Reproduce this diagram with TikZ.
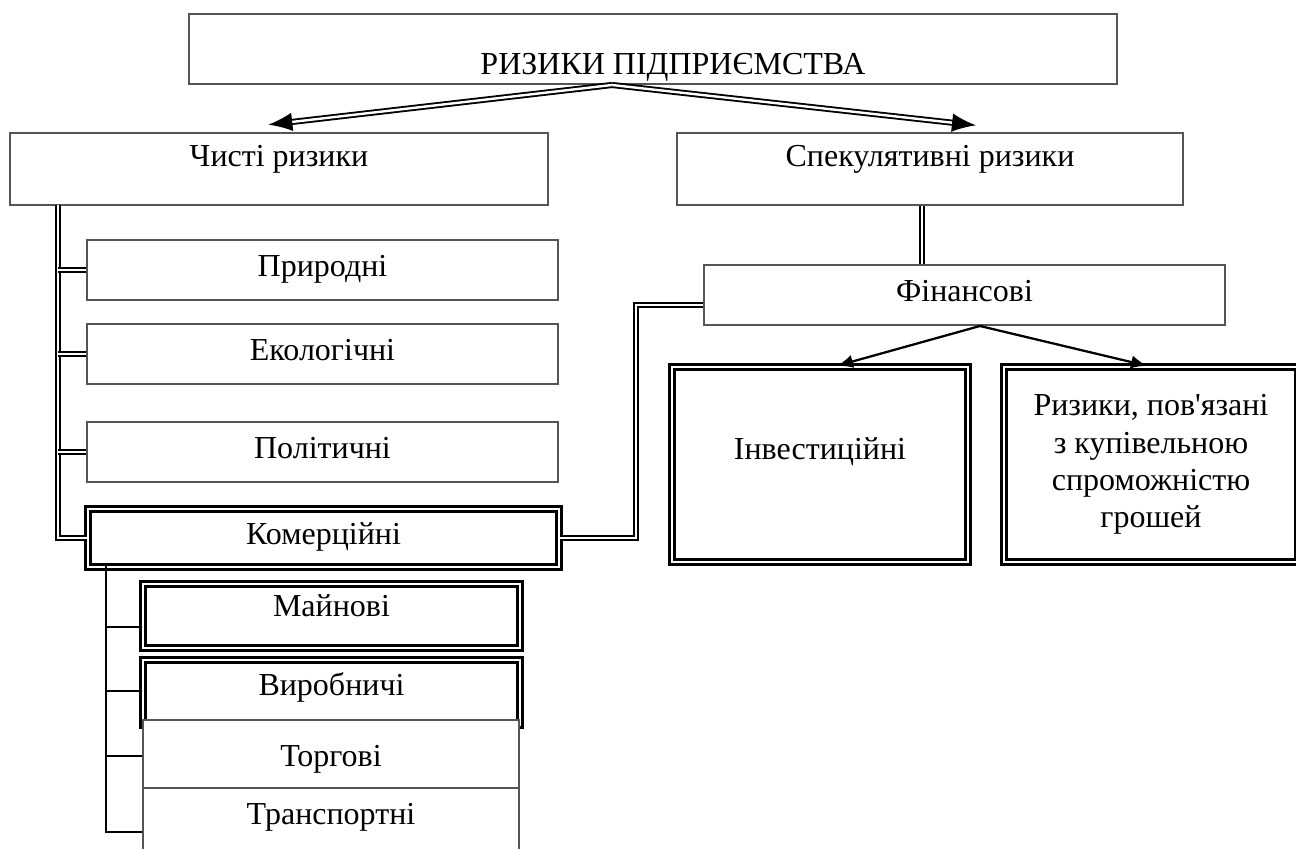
\documentclass[tikz,border=0pt]{standalone}
\usepackage{fontspec}
\setmainfont{Liberation Serif}
\usetikzlibrary{arrows.meta}
\definecolor{edge}{RGB}{85,85,85}
\tikzstyle{box}=[rectangle,draw=edge,fill=white,line width=1.5pt,inner sep=0pt,
  text height=15pt,text depth=6pt]
\tikzstyle{dbox}=[rectangle,draw=black,double=white,fill=white,line width=1.8pt,
  double distance=2pt,inner sep=0pt]
\tikzstyle{txt}=[text height=15pt,text depth=6pt]
\tikzstyle{dl}=[draw=black,double=white,line width=1.4pt,double distance=1.8pt]
\tikzstyle{sub}=[draw=black,line width=1.3pt]
\tikzstyle{arr}=[-{Latex[length=18pt,width=14pt]}]
\tikzstyle{sarr}=[draw=black,line width=1.7pt,-{Latex[length=12pt,width=10pt]}]

\begin{document}
\begin{tikzpicture}[x=0.75pt,y=-0.75pt,font=\fontsize{24}{28}\selectfont]
    \useasboundingbox (0,0) rectangle (1296,849);
    \node [style=box,minimum width=696pt,minimum height=52.5pt] (top) at (653,49) {\raisebox{-14.5pt}{\hspace*{30pt}РИЗИКИ ПІДПРИЄМСТВА}};
    \node [style=box,minimum width=403.5pt,minimum height=54pt] (chysti) at (279,169) {\raisebox{6pt}{Чисті ризики}};
    \node [style=box,minimum width=379.5pt,minimum height=54pt] (spek) at (930,169) {\raisebox{6pt}{Спекулятивні ризики}};
    \node [style=box,minimum width=353.25pt,minimum height=45pt] (prir) at (322.5,270) {Природні};
    \node [style=box,minimum width=353.25pt,minimum height=45pt] (ekol) at (322.5,354) {Екологічні};
    \node [style=box,minimum width=353.25pt,minimum height=45pt] (polit) at (322.5,452) {Політичні};
    \node [style=dbox,style=txt,minimum width=353.25pt,minimum height=43.5pt] (komer) at (323.5,538) {Комерційні};
    \node [style=box,minimum width=390.75pt,minimum height=45pt] (fin) at (964.5,295) {Фінансові};
    \node [style=dbox,style=txt,minimum width=222pt,minimum height=146.25pt] (inv) at (820,464.5) {\raisebox{8pt}{Інвестиційні}};
    \node [style=dbox,align=center,minimum width=220.5pt,minimum height=146.25pt] (riz) at (1151,464.5) {Ризики, пов\textquotesingle язані\\з купівельною\\спроможністю\\грошей};
    \node [style=dbox,style=txt,minimum width=282.75pt,minimum height=48pt] (majn) at (331.5,616) {\raisebox{4pt}{Майнові}};
    \node [style=dbox,style=txt,minimum width=282.75pt,minimum height=48.75pt] (vyrob) at (331.5,692.5) {\raisebox{2pt}{Виробничі}};
    \node [style=box,minimum width=282pt,minimum height=51pt] (torh) at (331,754) {\raisebox{-5pt}{Торгові}};
    \node [style=box,minimum width=282pt,minimum height=61.5pt] (transp) at (331,829) {\raisebox{8pt}{Транспортні}};
    \coordinate (t0) at (58,205);
    \coordinate (k1) at (636,305);
    \coordinate (s0) at (106,563);
    \draw [style=dl,style=arr] ([xshift=-30.75pt]top.south) to ([xshift=-8pt,yshift=5.5pt]chysti.north);
    \draw [style=dl,style=arr] ([xshift=-30.75pt]top.south) to ([xshift=34.5pt,yshift=5pt]spek.north);
    \draw [style=dl] (t0) |- (komer.west);
    \draw [style=dl] (prir.west) to (prir.west -| t0);
    \draw [style=dl] (ekol.west) to (ekol.west -| t0);
    \draw [style=dl] (polit.west) to (polit.west -| t0);
    \draw [style=dl] (komer.east) -| (k1) to ([yshift=-7.5pt]fin.west);
    \draw [style=dl] ([xshift=-6pt]spek.south) to ([xshift=-6pt]spek.south |- fin.north);
    \draw [style=sarr] ([xshift=11.6pt]fin.south) to ([xshift=12.75pt]inv.north);
    \draw [style=sarr] ([xshift=11.6pt]fin.south) to ([xshift=-3pt]riz.north);
    \draw [style=sub] (s0) |- ([yshift=-2.25pt]transp.west);
    \draw [style=sub] ([yshift=-8.25pt]majn.west) to ([yshift=-8.25pt]majn.west -| s0);
    \draw [style=sub] ([yshift=1pt]vyrob.west) to ([yshift=1pt]vyrob.west -| s0);
    \draw [style=sub] ([yshift=-1.5pt]torh.west) to ([yshift=-1.5pt]torh.west -| s0);
\end{tikzpicture}
\end{document}
